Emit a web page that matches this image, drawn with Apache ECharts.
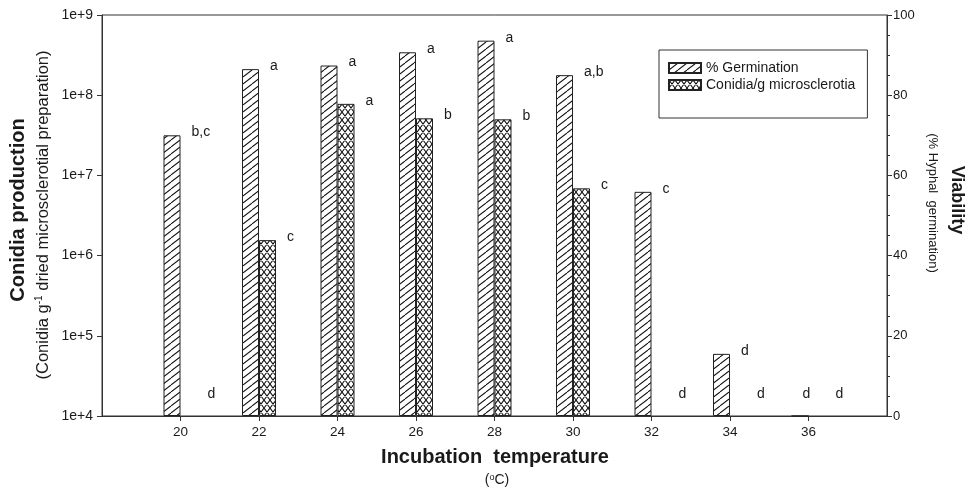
<!DOCTYPE html>
<html><head><meta charset="utf-8">
<script src="https://cdn.jsdelivr.net/npm/echarts@6/dist/echarts.min.js"></script>
<style>html,body{margin:0;padding:0;background:#fff}#c{width:968px;height:491px}</style>
</head><body><div id="c"></div>
<script>
// ---- data ----
const temperatures = [20, 22, 24, 26, 28, 30, 32, 34, 36];
const germination = [70, 86.5, 87.4, 90.7, 93.6, 85.0, 55.9, 15.5, 0];        // % (right axis)
const conidia = [0, 1.56e6, 7.8e7, 5.15e7, 5.0e7, 6.9e6, 0, 0, 0];            // conidia/g (left log axis)
const germLetters = ['b,c', 'a', 'a', 'a', 'a', 'a,b', 'c', 'd', 'd'];
const conidiaLetters = ['d', 'c', 'a', 'b', 'b', 'c', 'd', 'd', 'd'];
const rightTicks = [0, 20, 40, 60, 80, 100];

const FONT = '"Liberation Sans", Arial, sans-serif';
const INK = '#1a1a1a';

function hatch(cross) {
  const w = cross ? 6 : 9, h = cross ? 8 : 7;
  const c = document.createElement('canvas');
  c.width = w; c.height = h;
  const g = c.getContext('2d');
  g.fillStyle = '#fff'; g.fillRect(0, 0, w, h);
  g.strokeStyle = '#111'; g.lineWidth = 1.05;
  g.beginPath();
  for (const dx of [-w, 0, w]) { g.moveTo(dx, h); g.lineTo(dx + w, 0); }
  if (cross) for (const dx of [-w, 0, w]) { g.moveTo(dx, 0); g.lineTo(dx + w, h); }
  g.stroke();
  return c;
}

const chart = echarts.init(document.getElementById('c'), null, {renderer: 'canvas'});

const barLabel = (letters) => ({
  show: true,
  position: ['100%', 0],
  align: 'left',
  verticalAlign: 'middle',
  offset: [11, -3],
  fontFamily: FONT, fontSize: 14, color: INK,
  formatter: p => (p.value[1] > 0 ? letters[p.dataIndex] : '')
});

const germZero = temperatures.map((t, i) => germination[i] === 0 ? [t, 0, germLetters[i]] : null).filter(Boolean);
const conZero = temperatures.map((t, i) => conidia[i] === 0 ? [t, 0, conidiaLetters[i]] : null).filter(Boolean);

const zeroLabel = (dx) => ({
  show: true, position: 'inside', align: 'left', verticalAlign: 'middle',
  offset: [dx, -22], fontFamily: FONT, fontSize: 14, color: INK, opacity: 1,
  textBorderWidth: 0,
  formatter: p => p.data[2]
});

chart.setOption({
  animation: false,
  backgroundColor: '#fff',
  grid: {left: 102, right: 81, top: 15, bottom: 75, show: true, borderColor: '#333', borderWidth: 1, backgroundColor: 'transparent'},
  legend: {
    orient: 'vertical', left: 659, top: 50,
    data: ['% Germination', 'Conidia/g microsclerotia'],
    itemWidth: 32, itemHeight: 10, itemGap: 1,
    borderColor: '#333', borderWidth: 1, borderRadius: 0,
    padding: [10, 12, 25, 9],
    textStyle: {fontFamily: FONT, fontSize: 14, color: INK, lineHeight: 16},
    icon: 'rect', selectedMode: false
  },
  xAxis: {
    type: 'value', min: 18, max: 38, interval: 2,
    axisLine: {show: true, onZero: false, lineStyle: {color: '#333', width: 1}},
    axisTick: {show: true, length: 5, lineStyle: {color: '#333'}, customValues: temperatures},
    axisLabel: {fontFamily: FONT, fontSize: 13.5, color: INK, margin: 9, customValues: temperatures},
    splitLine: {show: false}
  },
  yAxis: [
    {
      type: 'log', logBase: 10, min: 1e4, max: 1e9, position: 'left', startValue: 1e4,
      axisLine: {show: true, lineStyle: {color: '#333', width: 1}},
      axisTick: {show: true, length: 5, lineStyle: {color: '#333'}},
      axisLabel: {fontFamily: FONT, fontSize: 14, color: INK, margin: 9,
        formatter: v => '1e+' + Math.round(Math.log10(v))},
      splitLine: {show: false}
    },
    {
      type: 'value', min: 0, max: 100, interval: 20, position: 'right',
      axisLine: {show: true, lineStyle: {color: '#333', width: 1}},
      axisTick: {show: true, length: 5, lineStyle: {color: '#333'}},
      minorTick: {show: true, splitNumber: 4, length: 3, lineStyle: {color: '#333'}},
      axisLabel: {fontFamily: FONT, fontSize: 13, color: INK, margin: 6},
      splitLine: {show: false}
    }
  ],
  series: [
    {
      name: '% Germination', type: 'bar', yAxisIndex: 1, barWidth: 17, barGap: '0%', clip: true,
      data: temperatures.map((t, i) => [t, germination[i]]),
      itemStyle: {color: {image: hatch(false), repeat: 'repeat'}, borderColor: '#222', borderWidth: 1},
      label: barLabel(germLetters)
    },
    {
      name: 'Conidia/g microsclerotia', type: 'bar', yAxisIndex: 0, barWidth: 17, barGap: '0%', clip: true,
      data: temperatures.map((t, i) => [t, conidia[i] > 0 ? conidia[i] : '-']),
      itemStyle: {color: {image: hatch(true), repeat: 'repeat'}, borderColor: '#222', borderWidth: 1},
      label: barLabel(conidiaLetters)
    },
    {
      type: 'scatter', yAxisIndex: 1, symbol: 'rect', symbolSize: 0.5, itemStyle: {color: '#333', opacity: 1},
      data: germZero, label: zeroLabel(-6), silent: true, z: 5
    },
    {
      type: 'scatter', yAxisIndex: 1, symbol: 'rect', symbolSize: 0.5, itemStyle: {color: '#333', opacity: 1},
      data: conZero, label: zeroLabel(27), silent: true, z: 5
    }
  ],
  graphic: [
    {type: 'text', x: 18, y: 210, rotation: Math.PI / 2,
      style: {text: 'Conidia production', font: 'bold 20px ' + FONT, fill: INK, align: 'center', verticalAlign: 'middle'}},
    {type: 'text', x: 43, y: 215, rotation: Math.PI / 2,
      style: {text: '(Conidia g{s|-1} dried microsclerotial preparation)', font: '16.5px ' + FONT, fill: INK,
        align: 'center', verticalAlign: 'middle',
        rich: {s: {fontSize: 10, fontFamily: FONT, verticalAlign: 'top', lineHeight: 10, padding: [0, 0, 0, 0]}}}},
    {type: 'text', x: 957, y: 200, rotation: -Math.PI / 2,
      style: {text: 'Viability', font: 'bold 18px ' + FONT, fill: INK, align: 'center', verticalAlign: 'middle'}},
    {type: 'text', x: 933, y: 203, rotation: -Math.PI / 2,
      style: {text: '(% Hyphal  germination)', font: '13px ' + FONT, fill: INK, align: 'center', verticalAlign: 'middle'}},
    {type: 'text', x: 495, y: 457,
      style: {text: 'Incubation  temperature', font: 'bold 20px ' + FONT, fill: INK, align: 'center', verticalAlign: 'middle'}},
    {type: 'text', x: 497, y: 480,
      style: {text: '({s|o}C)', font: '14px ' + FONT, fill: INK, align: 'center', verticalAlign: 'middle',
        rich: {s: {fontSize: 9, fontFamily: FONT, verticalAlign: 'top', lineHeight: 9}}}}
  ]
});
</script>
</body></html>
